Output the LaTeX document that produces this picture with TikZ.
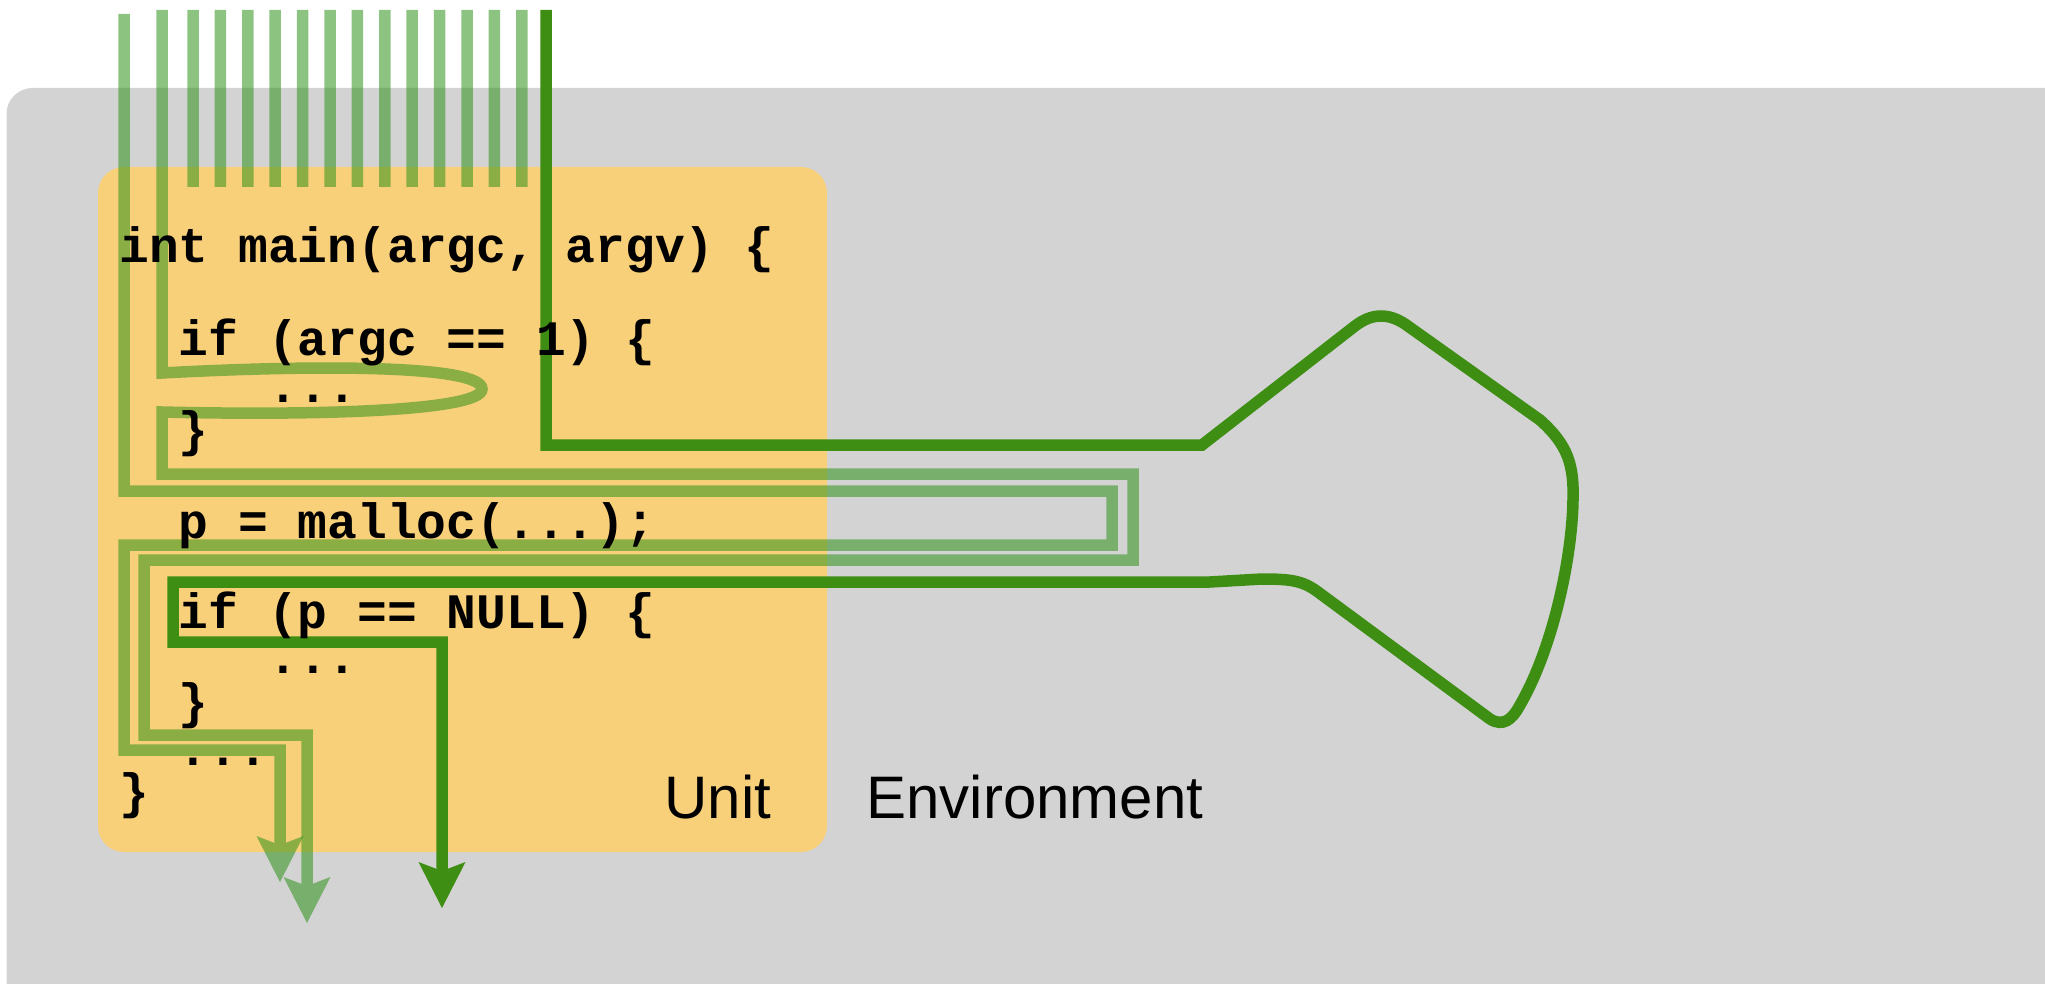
\documentclass[tikz,border=0pt]{standalone}
\usepackage{fontspec}
\setmainfont{Liberation Sans}
\setmonofont{Liberation Mono}
\usepackage{tikz}
\usetikzlibrary{arrows.meta}
\usepackage{xcolor}
\definecolor{envgray}{HTML}{D3D3D3}
\definecolor{unitorange}{HTML}{F9D07A}
\definecolor{pathgreen}{HTML}{3D8E13}
\definecolor{tracegreen}{HTML}{309218}

\begin{document}
\begin{tikzpicture}[x=0.5pt,y=-0.5pt,
  >={Stealth[length=23pt,width=23.5pt,inset=4.5pt,line width=0pt]},
  env box/.style={fill=envgray,rounded corners=13pt},
  unit box/.style={fill=unitorange,rounded corners=13pt},
  code line/.style={anchor=base west,inner sep=0pt,
                    font=\ttfamily\bfseries\fontsize{24.8}{30}\selectfont},
  label node/.style={anchor=base west,inner sep=0pt,font=\fontsize{30}{36}\selectfont},
  trace/.style={line width=5.75pt,draw=tracegreen},
  faded/.style={transparency group,opacity=0.55},
  main path/.style={line width=5.75pt,draw=pathgreen}]

  \useasboundingbox (0,0) rectangle (2045,984);

  % environment and unit
  \fill[env box] (6.5,88) rectangle (2120,1060);
  \fill[unit box] (98,167) rectangle (827,852);

  % traces that stop at the unit
  \begin{scope}[faded]
    \foreach \i in {0,...,12}
      \draw[trace] ({193+27.4*\i},10) -- ({193+27.4*\i},187);
  \end{scope}

  % trace through malloc and back
  \begin{scope}[faded]
    \draw[trace,->] (124,14) -- (124,491) -- (1112,491) -- (1112,545)
      -- (124,545) -- (124,750) -- (280,750) -- (280,882);
  \end{scope}

  % trace with the loop in the first if
  \begin{scope}[faded]
    \draw[trace,->] (162,10) -- (162,373)
      .. controls (330,364) and (482,366) .. (482,389)
      .. controls (482,410) and (330,416) .. (162,412)
      -- (162,474) -- (1133,474) -- (1133,560) -- (144,560)
      -- (144,735) -- (307,735) -- (307,923);
  \end{scope}

  % path through the environment
  \draw[main path,->] (546,10) -- (546,445) -- (1202,445) -- (1355,326)
    .. controls (1372,313) and (1388,313) .. (1405,324) -- (1540,420)
    .. controls (1568,445) and (1574,465) .. (1573,500)
    .. controls (1572,560) and (1552,650) .. (1520,705)
    .. controls (1512,720) and (1503,727) .. (1490,719) -- (1318,592)
    .. controls (1303,581) and (1292,579) .. (1262,579)
    -- (1210,582) -- (173,582) -- (173,642) -- (442,642) -- (442,908);

  % code of the unit
  \node[code line] (main)   at (119,263)   {int main(argc, argv) \{};
  \node[code line] (ifargc) at (178.5,355) {if (argc == 1) \{};
  \node[code line] (dotsa)  at (268,402)   {...};
  \node[code line] (closea) at (178.5,446) {\}};
  \node[code line] (malloc) at (178.5,538) {p = malloc(...);};
  \node[code line] (ifnull) at (178.5,628) {if (p == NULL) \{};
  \node[code line] (dotsb)  at (268,673)   {...};
  \node[code line] (closeb) at (178.5,718) {\}};
  \node[code line] (dotsc)  at (178.5,765) {...};
  \node[code line] (closec) at (119,808)   {\}};

  % labels
  \node[label node] (unit) at (664,818) {Unit};
  \node[label node] (env)  at (866,818) {Environment};

\end{tikzpicture}
\end{document}
